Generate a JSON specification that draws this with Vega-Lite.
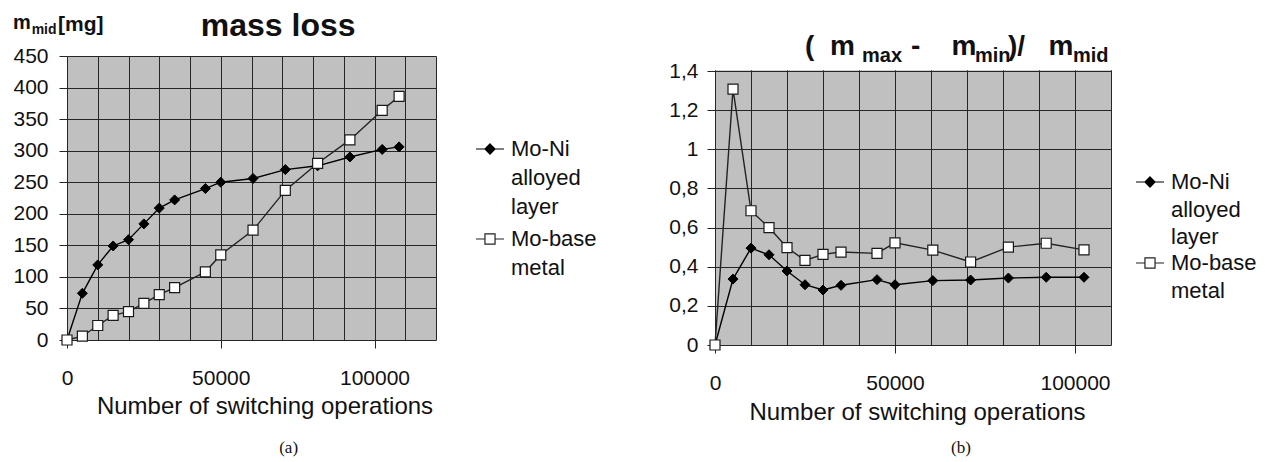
{
  "$schema": "https://vega.github.io/schema/vega-lite/v6.json",
  "padding": {"left": 12, "top": 9, "right": 0, "bottom": 0},
  "spacing": 71,
  "resolve": {"scale": {"color": "independent"}, "legend": {"color": "independent"}},
  "config": {
    "font": "Liberation Sans",
    "view": {"fill": "#c0c0c0", "stroke": null},
    "axis": {"gridColor": "#262626", "gridOpacity": 1, "gridWidth": 1, "domain": false, "tickColor": "#262626", "tickSize": 8, "tickWidth": 1, "labelFontSize": 21, "labelColor": "#111", "labelFont": "Liberation Sans", "titleFont": "Liberation Sans", "titleFontSize": 24, "titleFontWeight": "normal", "titleColor": "#111", "labelOverlap": false},
    "legend": {"labelFontSize": 22, "labelColor": "#111", "labelFont": "Liberation Sans", "labelLimit": 0, "labelOffset": 6, "padding": 0, "symbolSize": 784, "symbolStrokeWidth": 1.2}
  },
  "datasets": {
    "a": [
      {"x": 0, "series": "Mo-Ni alloyed layer", "v": 0},
      {"x": 5000, "series": "Mo-Ni alloyed layer", "v": 74},
      {"x": 10000, "series": "Mo-Ni alloyed layer", "v": 119},
      {"x": 15000, "series": "Mo-Ni alloyed layer", "v": 149},
      {"x": 20000, "series": "Mo-Ni alloyed layer", "v": 159},
      {"x": 25000, "series": "Mo-Ni alloyed layer", "v": 184},
      {"x": 30000, "series": "Mo-Ni alloyed layer", "v": 209},
      {"x": 35000, "series": "Mo-Ni alloyed layer", "v": 222},
      {"x": 45000, "series": "Mo-Ni alloyed layer", "v": 240},
      {"x": 50000, "series": "Mo-Ni alloyed layer", "v": 250},
      {"x": 60500, "series": "Mo-Ni alloyed layer", "v": 256},
      {"x": 71000, "series": "Mo-Ni alloyed layer", "v": 270},
      {"x": 81500, "series": "Mo-Ni alloyed layer", "v": 276},
      {"x": 92000, "series": "Mo-Ni alloyed layer", "v": 290},
      {"x": 102500, "series": "Mo-Ni alloyed layer", "v": 302},
      {"x": 108000, "series": "Mo-Ni alloyed layer", "v": 306},
      {"x": 0, "series": "Mo-base metal", "v": 0},
      {"x": 5000, "series": "Mo-base metal", "v": 6},
      {"x": 10000, "series": "Mo-base metal", "v": 23},
      {"x": 15000, "series": "Mo-base metal", "v": 39},
      {"x": 20000, "series": "Mo-base metal", "v": 45},
      {"x": 25000, "series": "Mo-base metal", "v": 58},
      {"x": 30000, "series": "Mo-base metal", "v": 72},
      {"x": 35000, "series": "Mo-base metal", "v": 83},
      {"x": 45000, "series": "Mo-base metal", "v": 108},
      {"x": 50000, "series": "Mo-base metal", "v": 135},
      {"x": 60500, "series": "Mo-base metal", "v": 174},
      {"x": 71000, "series": "Mo-base metal", "v": 237},
      {"x": 81500, "series": "Mo-base metal", "v": 280},
      {"x": 92000, "series": "Mo-base metal", "v": 317},
      {"x": 102500, "series": "Mo-base metal", "v": 364},
      {"x": 108000, "series": "Mo-base metal", "v": 386}
    ],
    "b": [
      {"x": 0, "series": "Mo-Ni alloyed layer", "v": 0},
      {"x": 5000, "series": "Mo-Ni alloyed layer", "v": 0.337},
      {"x": 10000, "series": "Mo-Ni alloyed layer", "v": 0.495},
      {"x": 15000, "series": "Mo-Ni alloyed layer", "v": 0.461},
      {"x": 20000, "series": "Mo-Ni alloyed layer", "v": 0.378},
      {"x": 25000, "series": "Mo-Ni alloyed layer", "v": 0.308},
      {"x": 30000, "series": "Mo-Ni alloyed layer", "v": 0.281},
      {"x": 35000, "series": "Mo-Ni alloyed layer", "v": 0.305},
      {"x": 45000, "series": "Mo-Ni alloyed layer", "v": 0.334},
      {"x": 50000, "series": "Mo-Ni alloyed layer", "v": 0.308},
      {"x": 60500, "series": "Mo-Ni alloyed layer", "v": 0.329},
      {"x": 71000, "series": "Mo-Ni alloyed layer", "v": 0.332},
      {"x": 81500, "series": "Mo-Ni alloyed layer", "v": 0.342},
      {"x": 92000, "series": "Mo-Ni alloyed layer", "v": 0.346},
      {"x": 102500, "series": "Mo-Ni alloyed layer", "v": 0.346},
      {"x": 0, "series": "Mo-base metal", "v": 0},
      {"x": 5000, "series": "Mo-base metal", "v": 1.307},
      {"x": 10000, "series": "Mo-base metal", "v": 0.686},
      {"x": 15000, "series": "Mo-base metal", "v": 0.6},
      {"x": 20000, "series": "Mo-base metal", "v": 0.498},
      {"x": 25000, "series": "Mo-base metal", "v": 0.432},
      {"x": 30000, "series": "Mo-base metal", "v": 0.463},
      {"x": 35000, "series": "Mo-base metal", "v": 0.475},
      {"x": 45000, "series": "Mo-base metal", "v": 0.468},
      {"x": 50000, "series": "Mo-base metal", "v": 0.522},
      {"x": 60500, "series": "Mo-base metal", "v": 0.485},
      {"x": 71000, "series": "Mo-base metal", "v": 0.424},
      {"x": 81500, "series": "Mo-base metal", "v": 0.5},
      {"x": 92000, "series": "Mo-base metal", "v": 0.52},
      {"x": 102500, "series": "Mo-base metal", "v": 0.486}
    ]
  },
  "hconcat": [
    {
      "width": 369,
      "height": 284,
      "resolve": {"axis": {"x": "independent", "y": "independent"}},
      "layer": [
        {
          "data": {"name": "a"},
          "mark": {"type": "line", "strokeWidth": 1.4},
          "encoding": {
            "x": {"field": "x", "type": "quantitative", "scale": {"domain": [0, 120000], "nice": false, "zero": false},
              "axis": {"values": [0, 10000, 20000, 30000, 40000, 50000, 60000, 70000, 80000, 90000, 100000, 110000, 120000], "format": "d",
                "labelExpr": "datum.value % 50000 === 0 ? datum.label : ''",
                "tickOpacity": {"condition": {"test": "datum.value % 50000 === 0", "value": 1}, "value": 0},
                "labelPadding": 19, "labelFlush": false,
                "title": "Number of switching operations", "titlePadding": 6, "titleX": 197.5}},
            "y": {"field": "v", "type": "quantitative", "scale": {"domain": [0, 450], "nice": false},
              "axis": {"values": [0, 50, 100, 150, 200, 250, 300, 350, 400, 450], "labelPadding": 11, "title": null}},
            "color": {"field": "series", "type": "nominal", "scale": {"domain": ["Mo-Ni alloyed layer", "Mo-base metal"], "range": ["#000000", "#222222"]},
              "legend": {"orient": "none", "legendX": 408, "legendY": 78, "title": null, "rowPadding": 6,
                "labelExpr": "datum.value == 'Mo-Ni alloyed layer' ? ['Mo-Ni', 'alloyed', 'layer'] : ['Mo-base', 'metal']",
                "encode": {
                  "labels": {"update": {"dy": {"value": 0}, "lineHeight": {"value": 29}}},
                  "symbols": {"update": {
                    "shape": {"signal": "datum.value == 'Mo-Ni alloyed layer' ? 'M-1,0L1,0M0,-0.36L0.36,0L0,0.36L-0.36,0Z' : 'M-1,0L-0.36,0M0.36,0L1,0M-0.36,-0.36L0.36,-0.36L0.36,0.36L-0.36,0.36Z'"},
                    "fill": {"signal": "datum.value == 'Mo-Ni alloyed layer' ? '#000000' : '#ffffff'"},
                    "stroke": {"signal": "datum.value == 'Mo-Ni alloyed layer' ? '#000000' : '#555555'"},
                    "strokeWidth": {"value": 1.2},
                    "opacity": {"value": 1},
                    "fillOpacity": {"value": 1}
                  }}
                }}}
          }
        },
        {
          "data": {"name": "a"},
          "transform": [{"filter": "datum.series == 'Mo-Ni alloyed layer'"}],
          "mark": {"type": "point", "shape": "diamond", "filled": true, "fill": "#000000", "opacity": 1, "size": 100, "stroke": "#000000", "strokeWidth": 1},
          "encoding": {
            "x": {"field": "x", "type": "quantitative", "axis": null},
            "y": {"field": "v", "type": "quantitative", "axis": null}
          }
        },
        {
          "data": {"name": "a"},
          "transform": [{"filter": "datum.series == 'Mo-base metal'"}],
          "mark": {"type": "point", "shape": "square", "filled": true, "fill": "#ffffff", "opacity": 1, "size": 100, "stroke": "#1a1a1a", "strokeWidth": 1.2},
          "encoding": {
            "x": {"field": "x", "type": "quantitative", "axis": null},
            "y": {"field": "v", "type": "quantitative", "axis": null}
          }
        },
        {
          "data": {"values": [{}]},
          "mark": {"type": "text", "text": "mass loss", "fontSize": 32, "fontWeight": "bold", "align": "center", "baseline": "alphabetic", "color": "#111"},
          "encoding": {"x": {"datum": 68670, "axis": null}, "y": {"datum": 481.7, "axis": null}}
        },
        {
          "data": {"values": [{}]},
          "mark": {"type": "text", "text": "m", "fontSize": 20, "fontWeight": "bold", "align": "left", "baseline": "alphabetic", "color": "#111"},
          "encoding": {"x": {"datum": -17534, "axis": null}, "y": {"datum": 492.4, "axis": null}}
        },
        {
          "data": {"values": [{}]},
          "mark": {"type": "text", "text": "mid", "fontSize": 14, "fontWeight": "bold", "align": "left", "baseline": "alphabetic", "color": "#111"},
          "encoding": {"x": {"datum": -11490, "axis": null}, "y": {"datum": 484.9, "axis": null}}
        },
        {
          "data": {"values": [{}]},
          "mark": {"type": "text", "text": "[mg]", "fontSize": 21, "fontWeight": "bold", "align": "left", "baseline": "alphabetic", "color": "#111"},
          "encoding": {"x": {"datum": -2922, "axis": null}, "y": {"datum": 489.5, "axis": null}}
        },
        {
          "data": {"values": [{}]},
          "mark": {"type": "text", "text": "(a)", "font": "Liberation Serif", "fontSize": 17, "align": "center", "baseline": "alphabetic", "color": "#111"},
          "encoding": {"x": {"datum": 72080, "axis": null}, "y": {"datum": -179, "axis": null}}
        }
      ]
    },
    {
      "width": 396,
      "height": 289,
      "resolve": {"axis": {"x": "independent", "y": "independent"}},
      "layer": [
        {
          "data": {"name": "b"},
          "mark": {"type": "line", "strokeWidth": 1.4},
          "encoding": {
            "x": {"field": "x", "type": "quantitative", "scale": {"domain": [0, 110000], "nice": false, "zero": false},
              "axis": {"values": [0, 10000, 20000, 30000, 40000, 50000, 60000, 70000, 80000, 90000, 100000, 110000], "format": "d",
                "labelExpr": "datum.value % 50000 === 0 ? datum.label : ''",
                "tickOpacity": {"condition": {"test": "datum.value % 50000 === 0", "value": 1}, "value": 0},
                "labelPadding": 19, "labelFlush": false,
                "title": "Number of switching operations", "titlePadding": 7, "titleX": 202}},
            "y": {"field": "v", "type": "quantitative", "scale": {"domain": [0, 1.4767], "nice": false},
              "axis": {"values": [0, 0.2, 0.4, 0.6, 0.8, 1, 1.2, 1.4], "labelExpr": "replace(format(datum.value, '~g'), '.', ',')", "labelPadding": 9, "title": null}},
            "color": {"field": "series", "type": "nominal", "scale": {"domain": ["Mo-Ni alloyed layer", "Mo-base metal"], "range": ["#000000", "#222222"]},
              "legend": {"orient": "none", "legendX": 420, "legendY": 111, "title": null, "rowPadding": 0,
                "labelExpr": "datum.value == 'Mo-Ni alloyed layer' ? ['Mo-Ni', 'alloyed', 'layer'] : ['Mo-base', 'metal']",
                "encode": {
                  "labels": {"update": {"dy": {"value": 0}, "lineHeight": {"value": 27.5}}},
                  "symbols": {"update": {
                    "shape": {"signal": "datum.value == 'Mo-Ni alloyed layer' ? 'M-1,0L1,0M0,-0.36L0.36,0L0,0.36L-0.36,0Z' : 'M-1,0L-0.36,0M0.36,0L1,0M-0.36,-0.36L0.36,-0.36L0.36,0.36L-0.36,0.36Z'"},
                    "fill": {"signal": "datum.value == 'Mo-Ni alloyed layer' ? '#000000' : '#ffffff'"},
                    "stroke": {"signal": "datum.value == 'Mo-Ni alloyed layer' ? '#000000' : '#555555'"},
                    "strokeWidth": {"value": 1.2},
                    "opacity": {"value": 1},
                    "fillOpacity": {"value": 1}
                  }}
                }}}
          }
        },
        {
          "data": {"name": "b"},
          "transform": [{"filter": "datum.series == 'Mo-Ni alloyed layer'"}],
          "mark": {"type": "point", "shape": "diamond", "filled": true, "fill": "#000000", "opacity": 1, "size": 100, "stroke": "#000000", "strokeWidth": 1},
          "encoding": {
            "x": {"field": "x", "type": "quantitative", "axis": null},
            "y": {"field": "v", "type": "quantitative", "axis": null}
          }
        },
        {
          "data": {"name": "b"},
          "transform": [{"filter": "datum.series == 'Mo-base metal'"}],
          "mark": {"type": "point", "shape": "square", "filled": true, "fill": "#ffffff", "opacity": 1, "size": 100, "stroke": "#1a1a1a", "strokeWidth": 1.2},
          "encoding": {
            "x": {"field": "x", "type": "quantitative", "axis": null},
            "y": {"field": "v", "type": "quantitative", "axis": null}
          }
        },
        {
          "data": {"values": [{}]},
          "mark": {"type": "rect", "fill": "#ffffff", "stroke": null, "opacity": 1},
          "encoding": {"x": {"datum": -600, "axis": null}, "x2": {"datum": 110600}, "y": {"datum": 1.4036, "axis": null}, "y2": {"datum": 1.52}}
        },
        {
          "data": {"values": [{}]},
          "mark": {"type": "text", "text": "(\u00a0\u00a0m", "fontSize": 28, "fontWeight": "bold", "align": "left", "baseline": "alphabetic", "color": "#111"},
          "encoding": {"x": {"datum": 25000, "axis": null}, "y": {"datum": 1.482, "axis": null}}
        },
        {
          "data": {"values": [{}]},
          "mark": {"type": "text", "text": "max", "fontSize": 20, "fontWeight": "bold", "align": "left", "baseline": "alphabetic", "color": "#111"},
          "encoding": {"x": {"datum": 40830, "axis": null}, "y": {"datum": 1.446, "axis": null}}
        },
        {
          "data": {"values": [{}]},
          "mark": {"type": "text", "text": "-\u00a0\u00a0\u00a0\u00a0m", "fontSize": 28, "fontWeight": "bold", "align": "left", "baseline": "alphabetic", "color": "#111"},
          "encoding": {"x": {"datum": 54440, "axis": null}, "y": {"datum": 1.482, "axis": null}}
        },
        {
          "data": {"values": [{}]},
          "mark": {"type": "text", "text": "min", "fontSize": 20, "fontWeight": "bold", "align": "left", "baseline": "alphabetic", "color": "#111"},
          "encoding": {"x": {"datum": 72220, "axis": null}, "y": {"datum": 1.446, "axis": null}}
        },
        {
          "data": {"values": [{}]},
          "mark": {"type": "text", "text": ")/\u00a0\u00a0\u00a0m", "fontSize": 28, "fontWeight": "bold", "align": "left", "baseline": "alphabetic", "color": "#111"},
          "encoding": {"x": {"datum": 81390, "axis": null}, "y": {"datum": 1.482, "axis": null}}
        },
        {
          "data": {"values": [{}]},
          "mark": {"type": "text", "text": "mid", "fontSize": 20, "fontWeight": "bold", "align": "left", "baseline": "alphabetic", "color": "#111"},
          "encoding": {"x": {"datum": 99440, "axis": null}, "y": {"datum": 1.446, "axis": null}}
        },
        {
          "data": {"values": [{}]},
          "mark": {"type": "text", "text": "(b)", "font": "Liberation Serif", "fontSize": 17, "align": "center", "baseline": "alphabetic", "color": "#111"},
          "encoding": {"x": {"datum": 68330, "axis": null}, "y": {"datum": -0.552, "axis": null}}
        }
      ]
    }
  ]
}
